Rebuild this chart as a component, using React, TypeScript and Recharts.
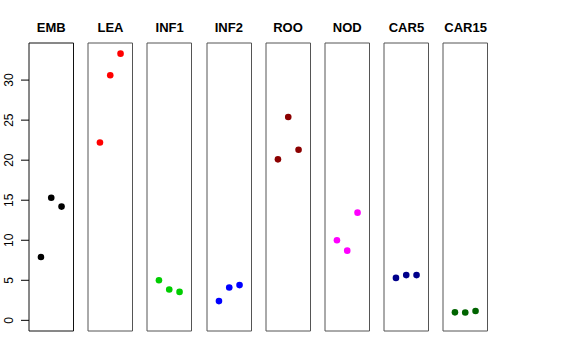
import { ScatterChart, Scatter, XAxis, YAxis, ReferenceArea } from "recharts";

const tissues = ["EMB", "LEA", "INF1", "INF2", "ROO", "NOD", "CAR5", "CAR15"];
const colors = ["#000000", "#ff0000", "#00cd00", "#0000ff", "#8b0000", "#ff00ff", "#00008b", "#006400"];
const replicates = [1, 2, 3];
const emb = [7.9, 15.3, 14.2];
const lea = [22.2, 30.6, 33.3];
const inf1 = [5.0, 3.85, 3.55];
const inf2 = [2.4, 4.1, 4.4];
const roo = [20.1, 25.4, 21.3];
const nod = [10.0, 8.7, 13.45];
const car5 = [5.3, 5.65, 5.65];
const car15 = [1.0, 0.97, 1.17];
const yTicks = [0, 5, 10, 15, 20, 25, 30];

const values = [emb, lea, inf1, inf2, roo, nod, car5, car15];

// R-style 4% padding around xlim [0,4] and ylim [0, 33.3]
const xDomain: [number, number] = [-0.16, 4.16];
const yDomain: [number, number] = [-1.332, 34.632];

const TOP = 43;
const BOTTOM = 331;
const PANEL_W = 44.5;
const FIRST = 29;
const STEP = 59.2;

const RotTick = (props: any) => {
  const { x, y, payload } = props;
  return (
    <text
      x={13}
      y={y}
      transform={`rotate(-90, 13, ${y})`}
      textAnchor="middle"
      fontSize={12}
      fill="#000"
      fontFamily="Liberation Sans, Arial, sans-serif"
    >
      {payload.value}
    </text>
  );
};

const Panel = ({ idx }: { idx: number }) => {
  const left = FIRST + idx * STEP;
  const withAxis = idx === 0;
  const data = replicates.map((r, i) => ({ x: r, y: values[idx][i] }));
  const chartLeft = withAxis ? 0 : left - 1;
  const width = withAxis ? left + PANEL_W + 1 : PANEL_W + 2;
  return (
    <div style={{ position: "absolute", left: chartLeft, top: 0 }}>
      <ScatterChart
        width={width}
        height={360}
        margin={{ top: TOP, bottom: 360 - BOTTOM, left: withAxis ? 0 : 1, right: 1 }}
      >
        <XAxis type="number" dataKey="x" domain={xDomain} hide />
        <YAxis
          type="number"
          dataKey="y"
          domain={yDomain}
          ticks={yTicks}
          hide={!withAxis}
          width={withAxis ? left : 0}
          axisLine={false}
          tickLine={{ stroke: "#000" }}
          tickSize={8}
          tick={<RotTick />}
          allowDataOverflow
        />
        <ReferenceArea
          x1={xDomain[0]}
          x2={xDomain[1]}
          y1={yDomain[0]}
          y2={yDomain[1]}
          fill="none"
          stroke={withAxis ? "#111" : "#555"}
          strokeWidth={1}
          ifOverflow="visible"
        />
        <Scatter
          data={data}
          fill={colors[idx]}
          shape={(p: any) => <circle cx={p.cx} cy={p.cy} r={3.3} fill={colors[idx]} />}
          isAnimationActive={false}
        />
      </ScatterChart>
      <div
        style={{
          position: "absolute",
          top: 20,
          left: withAxis ? left : 1,
          width: PANEL_W,
          textAlign: "center",
          fontFamily: "Liberation Sans, Arial, sans-serif",
          fontWeight: "bold",
          fontSize: 13,
          color: "#000",
        }}
      >
        {tissues[idx]}
      </div>
    </div>
  );
};

export default function App() {
  return (
    <div style={{ position: "absolute", left: 0, top: 0, width: 576, height: 360, background: "#fff" }}>
      {tissues.map((t, i) => (
        <Panel key={t} idx={i} />
      ))}
    </div>
  );
}
